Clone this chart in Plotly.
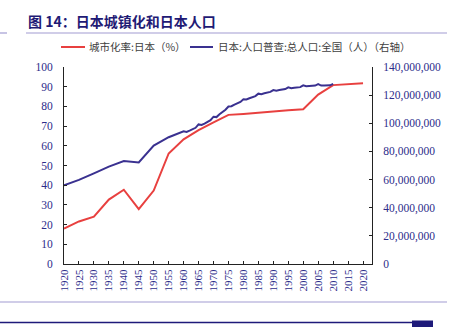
import plotly.graph_objects as go

# ---------------- data ----------------
urban_years = [1920, 1925, 1930, 1935, 1940, 1945, 1950, 1955, 1960, 1965, 1970,
               1975, 1980, 1985, 1990, 1995, 2000, 2005, 2010, 2015, 2020]
urban_rate = [18.0, 21.6, 24.0, 32.7, 37.7, 27.8, 37.3, 56.1, 63.3, 67.9, 71.9,
              75.7, 76.2, 76.7, 77.3, 78.0, 78.6, 86.0, 90.8, 91.4, 91.8]

pop_years = [1920, 1925, 1930, 1935, 1940, 1945, 1950, 1955, 1960,
             1961, 1962, 1963, 1964, 1965, 1966, 1967, 1968, 1969, 1970,
             1971, 1972, 1973, 1974, 1975, 1976, 1977, 1978, 1979, 1980,
             1981, 1982, 1983, 1984, 1985, 1986, 1987, 1988, 1989, 1990,
             1991, 1992, 1993, 1994, 1995, 1996, 1997, 1998, 1999, 2000,
             2001, 2002, 2003, 2004, 2005, 2006, 2007, 2008, 2009, 2010]
pop_millions = [55.96, 59.74, 64.45, 69.25, 73.11, 72.15, 84.11, 90.08, 94.30,
                93.9, 94.8, 95.8, 96.8, 99.21, 98.8, 99.8, 101.0, 102.2, 104.67,
                104.4, 106.4, 108.0, 109.6, 111.94, 112.1, 113.2, 114.2, 115.2, 117.06,
                116.9, 117.8, 118.6, 119.3, 121.05, 120.7, 121.3, 121.8, 122.3, 123.61,
                123.1, 123.6, 124.0, 124.3, 125.57, 124.9, 125.2, 125.5, 125.7, 126.93,
                126.3, 126.5, 126.7, 126.8, 127.77, 126.8, 126.9, 127.0, 127.0, 128.06]
pop_people = [v * 1e6 for v in pop_millions]

x_ticks = list(range(1920, 2021, 5))
left_ticks = list(range(0, 101, 10))
right_ticks = [i * 20_000_000 for i in range(8)]

title_text = "图 14：日本城镇化和日本人口"
name_red = "城市化率:日本（%）"
name_blue = "日本:人口普查:总人口:全国（人）（右轴）"

# ---------------- style ----------------
W, H = 453, 327
L, R, T, B = 64, 372, 67, 264
RED = "#E8403F"
BLUE = "#3A3190"
NAVY = "#2C2C8A"
LIGHT = "#A19CD2"
SERIF = "Liberation Serif"
CJK = "Noto Sans CJK SC"


def px(x):
    return (x - L) / (R - L)


def py(y):
    return (B - y) / (B - T)


fig = go.Figure()
fig.add_trace(go.Scatter(x=pop_years, y=pop_people, mode="lines", yaxis="y2",
                         line=dict(color=BLUE, width=2), name=name_blue, showlegend=False))
fig.add_trace(go.Scatter(x=urban_years, y=urban_rate, mode="lines",
                         line=dict(color=RED, width=2), name=name_red, showlegend=False))

shapes = [
    # title underline
    dict(type="line", xref="paper", yref="paper", x0=px(0), x1=px(7), y0=py(33), y1=py(33),
         line=dict(color=LIGHT, width=1.2)),
    dict(type="line", xref="paper", yref="paper", x0=px(26), x1=px(447), y0=py(33), y1=py(33),
         line=dict(color=LIGHT, width=1.2)),
    # legend samples
    dict(type="line", xref="paper", yref="paper", x0=px(61), x1=px(85), y0=py(47), y1=py(47),
         line=dict(color=RED, width=2)),
    dict(type="line", xref="paper", yref="paper", x0=px(190), x1=px(213), y0=py(47), y1=py(47),
         line=dict(color=BLUE, width=2)),
    # bottom decorations
    dict(type="line", xref="paper", yref="paper", x0=px(0), x1=px(447), y0=py(302), y1=py(302),
         line=dict(color=LIGHT, width=1.2)),
    dict(type="line", xref="paper", yref="paper", x0=px(0), x1=px(412), y0=py(322.5), y1=py(322.5),
         line=dict(color="#1E1A7A", width=1.5)),
    dict(type="rect", xref="paper", yref="paper", x0=px(412), x1=px(433), y0=py(320.5), y1=py(328),
         line=dict(width=0), fillcolor="#1E1A7A"),
]

annotations = [
    dict(text="<b>" + title_text + "</b>", xref="paper", yref="paper", x=px(26), y=py(21),
         xanchor="left", yanchor="middle", showarrow=False,
         font=dict(family=CJK, size=14, color="#1F1B75")),
    dict(text=name_red, xref="paper", yref="paper", x=px(87), y=py(47),
         xanchor="left", yanchor="middle", showarrow=False,
         font=dict(family=CJK, size=10.5, color="#404040")),
    dict(text=name_blue, xref="paper", yref="paper", x=px(216), y=py(47),
         xanchor="left", yanchor="middle", showarrow=False,
         font=dict(family=CJK, size=10.5, color="#404040")),
]

fig.update_layout(
    width=W, height=H,
    margin=dict(l=L, r=W - R, t=T, b=H - B, pad=0),
    paper_bgcolor="white", plot_bgcolor="white",
    showlegend=False,
    shapes=shapes,
    annotations=annotations,
    xaxis=dict(range=[1920, 2023], tickvals=x_ticks, ticktext=[str(v) for v in x_ticks],
               tickangle=-90, ticks="inside", ticklen=3, tickcolor="#222",
               showline=True, linecolor="#222", linewidth=1, showgrid=False, zeroline=False,
               tickfont=dict(family=SERIF, size=11, color=NAVY)),
    yaxis=dict(range=[0, 100], tickvals=left_ticks, ticks="inside", ticklen=3, tickcolor="#222",
               showline=True, linecolor="#222", linewidth=1, showgrid=False, zeroline=False,
               ticklabelstandoff=8,
               tickfont=dict(family=SERIF, size=11.5, color=NAVY)),
    yaxis2=dict(range=[0, 140_000_000], tickvals=right_ticks, tickformat=",",
                overlaying="y", side="right", ticks="inside", ticklen=3, tickcolor="#222",
                showline=True, linecolor="#222", linewidth=1, showgrid=False, zeroline=False,
                ticklabelstandoff=8,
                tickfont=dict(family=SERIF, size=11.5, color=NAVY)),
)

fig.write_html("out.html")
